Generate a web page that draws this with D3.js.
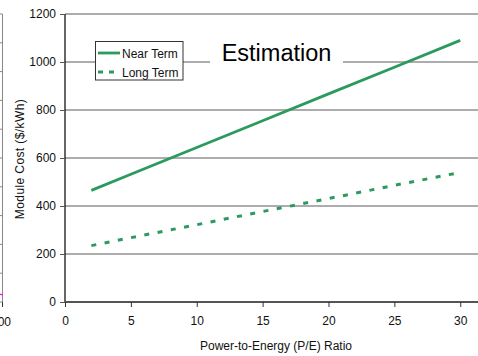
<!DOCTYPE html>
<html><head><meta charset="utf-8">
<script src="https://cdn.jsdelivr.net/npm/d3@7"></script>
<style>body{margin:0;background:#fff;} svg{display:block;font-family:"Liberation Sans",Arial,sans-serif;}</style>
</head><body>
<svg id="c" width="478" height="356"></svg>
<script>
const peRatio = [2, 5, 10, 15, 20, 25, 30];
const nearTerm = [465, 532, 644, 755, 867, 978, 1090];
const longTerm = [235, 268, 322, 377, 431, 486, 540];
const yTicks = [0, 200, 400, 600, 800, 1000, 1200];
const xTicks = [0, 5, 10, 15, 20, 25, 30];
const seriesNames = ["Near Term", "Long Term"];
const titleText = "Estimation";
const xTitle = "Power-to-Energy (P/E) Ratio";
const yTitle = "Module Cost ($/kWh)";
const neighbourTicks = d3.range(0, 11);

const svg = d3.select("#c");
const green = "#2b9a5e";
const x = d3.scaleLinear().domain([0, 31.5]).range([65, 480]);
const y = d3.scaleLinear().domain([0, 1200]).range([302, 14]);

// neighbouring chart fragment on left edge
const ny = d3.scaleLinear().domain([0, 10]).range([302, 14]);
svg.append("line").attr("x1", 2.5).attr("x2", 2.5).attr("y1", 14).attr("y2", 302).attr("stroke", "#888");
svg.selectAll(".nt").data(neighbourTicks).enter().append("line")
  .attr("x1", 0).attr("x2", 2.5).attr("y1", d => ny(d)).attr("y2", d => ny(d)).attr("stroke", "#888");
svg.append("line").attr("x1", 0).attr("x2", 3).attr("y1", 294).attr("y2", 295).attr("stroke", "#f0f").attr("stroke-width", 1.2);
svg.append("line").attr("x1", 2.5).attr("x2", 2.5).attr("y1", 302).attr("y2", 307).attr("stroke", "#333");
svg.append("text").attr("x", 11).attr("y", 326).attr("text-anchor", "end").attr("font-size", 12).attr("fill", "#111").text("00");

// gridlines
svg.selectAll(".grid").data(yTicks.filter(d => d > 0)).enter().append("line")
  .attr("x1", 65).attr("x2", 478).attr("y1", d => y(d)).attr("y2", d => y(d))
  .attr("stroke", "#5a5a5a").attr("stroke-width", 1);

// y axis
const yAxis = svg.append("g").attr("transform", "translate(65,0)")
  .call(d3.axisLeft(y).tickValues(yTicks).tickSize(5).tickPadding(4).tickFormat(d3.format("d")));
yAxis.select(".domain").attr("stroke", "#000").attr("stroke-width", 1.2).attr("d", "M0,14V302");
yAxis.selectAll(".tick line").attr("stroke", "#555");
yAxis.selectAll("text").attr("font-size", 12).attr("fill", "#111").attr("font-family", "Liberation Sans, Arial, sans-serif");

// x axis
const xAxis = svg.append("g").attr("transform", "translate(0,302)")
  .call(d3.axisBottom(x).tickValues(xTicks).tickSize(5).tickPadding(9));
xAxis.select(".domain").attr("stroke", "#555").attr("stroke-width", 2).attr("d", "M65,0H478");
xAxis.selectAll(".tick line").attr("stroke", "#333");
xAxis.selectAll("text").attr("font-size", 12).attr("fill", "#111").attr("font-family", "Liberation Sans, Arial, sans-serif");

// lines
const line = d3.line().x((d, i) => x(peRatio[i])).y(d => y(d));
svg.append("path").datum(nearTerm).attr("d", line).attr("fill", "none").attr("stroke", green).attr("stroke-width", 2.8);
svg.append("path").datum(longTerm).attr("d", line).attr("fill", "none").attr("stroke", green).attr("stroke-width", 3).attr("stroke-dasharray", "5,8.5");

// title with white background
svg.append("rect").attr("x", 210).attr("y", 58).attr("width", 133).attr("height", 8).attr("fill", "#fff");
svg.append("text").attr("x", 276.5).attr("y", 61).attr("text-anchor", "middle").attr("font-size", 23.5).attr("fill", "#000").text(titleText);

// legend
const lg = svg.append("g");
lg.append("rect").attr("x", 95.5).attr("y", 41.5).attr("width", 87.5).attr("height", 38.5).attr("fill", "#fff").attr("stroke", "#333").attr("stroke-width", 1);
seriesNames.forEach((n, i) => {
  const yy = 53 + i * 19;
  lg.append("line").attr("x1", 98).attr("x2", 120).attr("y1", yy).attr("y2", yy)
    .attr("stroke", green).attr("stroke-width", 2.8).attr("stroke-dasharray", i ? "5,6" : null);
  lg.append("text").attr("x", 122).attr("y", yy + 4.5).attr("font-size", 12).attr("fill", "#111").text(n);
});

// axis titles
svg.append("text").attr("x", 276).attr("y", 350).attr("text-anchor", "middle").attr("font-size", 12).attr("fill", "#111").text(xTitle);
svg.append("text").attr("transform", "translate(24,159) rotate(-90)").attr("text-anchor", "middle").attr("font-size", 12).attr("letter-spacing", 0.4).attr("fill", "#111").text(yTitle);
</script>
</body></html>
